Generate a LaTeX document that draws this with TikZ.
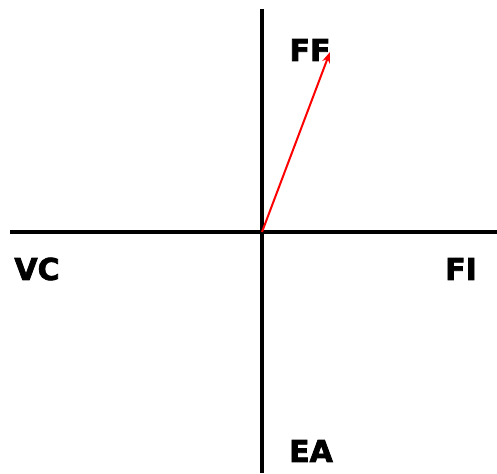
\documentclass[tikz,border=0pt]{standalone}
\usepackage{fontspec}
\setmainfont{DejaVu Sans}
\newfontfamily\heavy{DejaVu Sans}[FakeBold=2.5]
\usetikzlibrary{arrows.meta}
\begin{document}
\begin{tikzpicture}[x=1pt,y=-1pt,
  axis/.style={line width=4.2pt,black},
  vec/.style={red,line width=2pt,-{Stealth[length=11pt,width=8pt]}},
  lbl/.style={font=\heavy\bfseries\fontsize{30}{30}\selectfont,inner sep=0pt,anchor=center}]
\useasboundingbox (0,0) rectangle (497,473);
\coordinate (top) at (262,9);
\coordinate (bot) at (262,473);
\coordinate (left) at (10,232);
\coordinate (right) at (497,232);
\coordinate (o) at (262,232);
\coordinate (tip) at (330,52);
\draw[axis] (top) -- (bot);
\draw[axis] (left) -- (right);
\draw[vec] (o) -- (tip);
\node[lbl] (ff) at (310,50) {FF};
\node[lbl] (vc) at (37,269) {VC};
\node[lbl] (fi) at (461,269) {FI};
\node[lbl] (ea) at (311,451) {EA};
\end{tikzpicture}
\end{document}
